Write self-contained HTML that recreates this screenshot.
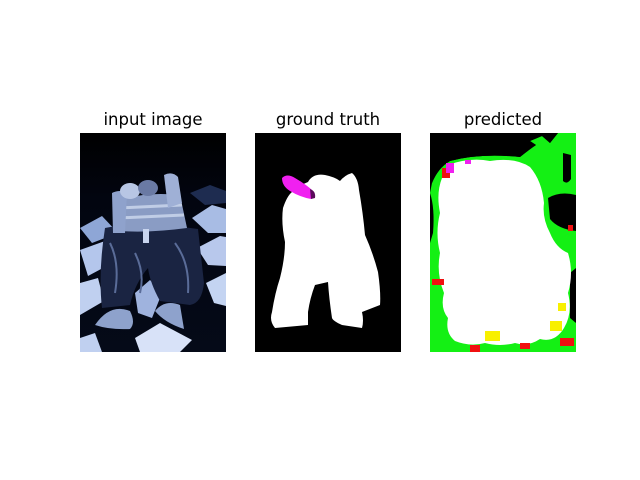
<!DOCTYPE html>
<html><head><meta charset="utf-8"><style>
html,body{margin:0;padding:0;background:#fff;}
svg{display:block;}
text{font-family:"DejaVu Sans","Liberation Sans",sans-serif;font-size:16.5px;fill:#000;}
</style></head><body>
<svg width="640" height="480" viewBox="0 0 640 480">
  <defs>
    <clipPath id="c1"><rect x="0" y="0" width="146" height="219"/></clipPath>
    <linearGradient id="bg1" x1="0" y1="0" x2="0" y2="1">
      <stop offset="0" stop-color="#000"/>
      <stop offset="0.3" stop-color="#020510"/>
      <stop offset="1" stop-color="#050a18"/>
    </linearGradient>
  </defs>

  <!-- Panel 1: input image -->
  <text x="153" y="125" text-anchor="middle">input image</text>
  <g transform="translate(80,133)" clip-path="url(#c1)">
    <rect width="146" height="219" fill="url(#bg1)"/>
    <g fill="#a8bce4">
      <polygon points="0,95 22,83 38,100 12,110" fill="#8ea6d6"/>
      <polygon points="0,117 25,108 36,128 8,143" fill="#b4c6ec"/>
      <polygon points="0,150 18,145 24,168 0,182" fill="#c0d0f0"/>
      <polygon points="112,85 132,72 146,76 146,100 128,100"/>
      <polygon points="117,115 140,103 146,104 146,133 128,132" fill="#b8c8ec"/>
      <polygon points="126,150 146,140 146,173 134,170" fill="#c4d4f2"/>
      <polygon points="55,160 70,147 82,160 72,185 58,180" fill="#9fb3de"/>
      <polygon points="55,205 80,190 112,207 100,219 60,219" fill="#d8e2f8"/>
      <polygon points="0,205 15,200 22,219 0,219" fill="#c0d0f0"/>
      <polygon points="110,60 130,52 146,58 146,70 125,72" fill="#1e2c50"/>
    </g>
    <g>
      <path d="M25,95 Q60,88 118,96 L124,150 Q122,170 110,172 L80,168 Q70,150 68,135 Q55,150 50,172 L22,175 Q18,140 25,95 Z" fill="#1a2442"/>
      <path d="M30,110 Q40,130 35,160 M95,110 Q110,130 108,160 M55,120 Q65,140 60,160" stroke="#5a6c98" stroke-width="2" fill="none"/>
      <path d="M33,70 Q60,58 100,62 L107,95 Q70,100 40,98 Z" fill="#8a9cc4"/>
      <path d="M38,75 L102,72 M38,85 L104,82" stroke="#c0cde6" stroke-width="3"/>
      <path d="M32,60 Q40,56 47,60 L45,100 L33,100 Z" fill="#8fa2cc"/>
      <path d="M84,42 Q92,38 98,44 L102,70 L88,75 Z" fill="#9fb0d6"/>
      <ellipse cx="50" cy="58" rx="10" ry="8" fill="#b8c6e4"/>
      <ellipse cx="68" cy="55" rx="10" ry="8" fill="#6a7aa4"/>
      <rect x="63" y="96" width="6" height="14" fill="#c8d4ee"/>
      <path d="M15,192 Q30,170 50,178 Q56,190 50,196 Q30,197 15,192 Z" fill="#8ea2cc"/>
      <path d="M75,178 Q85,166 100,172 L104,196 Q85,190 75,178 Z" fill="#8ea2cc"/>
    </g>
  </g>

  <!-- Panel 2: ground truth -->
  <text x="328" y="125" text-anchor="middle">ground truth</text>
  <g transform="translate(255,133)">
    <rect width="146" height="219" fill="#000"/>
    <path fill="#fff" d="M53,49 Q58,40 70,42 Q80,44 85,48 Q90,42 97,40 Q103,45 104,57 Q108,80 110,102 Q118,120 123,139 Q126,160 125,172 L107,179 Q109,188 107,195 L87,192 Q78,188 77,185 Q74,165 73,149 L60,152 Q55,165 53,179 L53,192 L20,195 Q14,188 17,179 Q20,160 25,145 Q30,125 30,109 Q26,90 28,75 Q32,63 37,59 Q45,52 53,49 Z"/>
    <path fill="#f020f0" d="M27,45 Q32,40 40,45 Q52,52 58,58 Q62,64 56,66 Q45,64 35,58 Q27,53 27,45 Z"/>
    <path fill="#5a0a5a" d="M55,56 Q61,58 60,65 L56,66 Z"/>
  </g>

  <!-- Panel 3: predicted -->
  <text x="503" y="125" text-anchor="middle">predicted</text>
  <g transform="translate(430,133)">
    <rect width="146" height="219" fill="#000"/>
    <path fill="#14f014" d="M2,50 Q8,35 20,28 Q50,20 90,24 Q100,16 106,12 L100,8 L112,3 L120,10 L128,0 L146,0 L146,219 L0,219 L0,60 Z"/>
    <path fill="#000" d="M118,65 Q130,58 146,62 L146,98 Q128,96 120,86 Z"/>
    <path fill="#000" d="M0,60 Q5,75 3,100 L0,110 Z"/>
    <path fill="#000" d="M140,140 L146,135 L146,190 L140,185 Z"/>
    <path fill="#000" d="M133,20 L133,48 Q137,52 141,46 L141,22 Z"/>
    <path fill="#000" d="M0,0 L128,0 L120,10 L112,3 L100,8 L106,12 Q100,16 90,24 Q50,20 20,28 Q8,35 2,50 L0,50 Z"/>
    <path fill="#fff" d="M18,32 Q40,24 60,28 Q85,24 100,34 Q112,48 114,70 Q112,85 120,100 Q126,115 138,120 Q144,140 138,160 Q143,180 134,195 Q125,210 110,206 Q98,214 85,210 Q70,214 55,210 Q40,214 25,208 Q15,200 18,185 Q10,175 14,160 Q6,140 10,120 Q5,100 10,80 Q6,60 12,45 Z"/>
    <g fill="#f01010">
      <rect x="12" y="35" width="8" height="10"/>
      <rect x="2" y="146" width="12" height="6"/>
      <rect x="130" y="205" width="14" height="8"/>
      <rect x="40" y="212" width="10" height="7"/>
      <rect x="90" y="210" width="10" height="6"/>
      <rect x="138" y="92" width="5" height="6"/>
    </g>
    <g fill="#f8f000">
      <rect x="55" y="198" width="15" height="10"/>
      <rect x="120" y="188" width="12" height="10"/>
      <rect x="128" y="170" width="8" height="8"/>
    </g>
    <g fill="#f020f0">
      <rect x="16" y="30" width="8" height="10"/>
      <rect x="35" y="27" width="6" height="4"/>
    </g>
  </g>
</svg>
</body></html>
